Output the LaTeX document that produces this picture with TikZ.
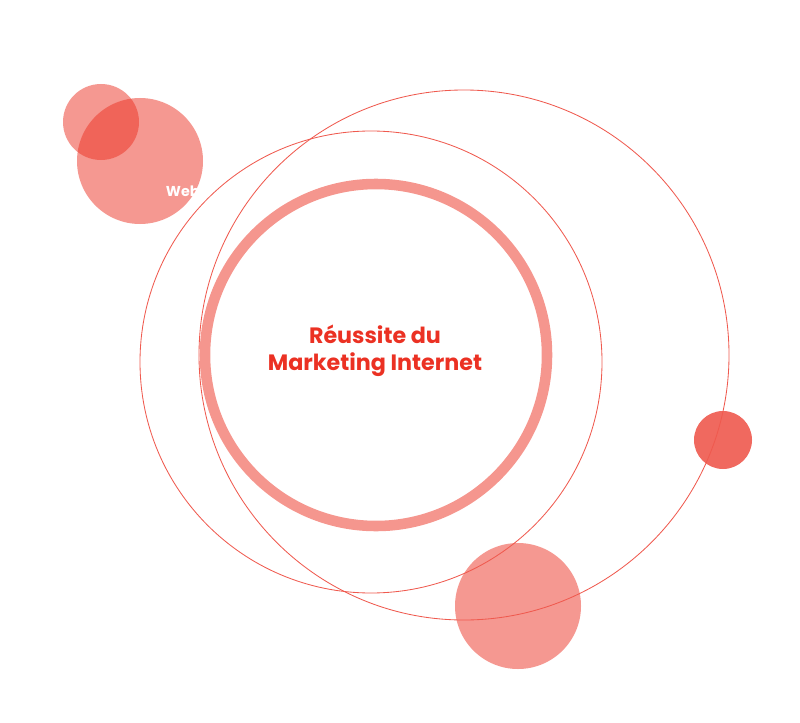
\documentclass[tikz,border=0pt]{standalone}
\usepackage{fontspec}
\setmainfont{Poppins}
\usetikzlibrary{positioning}
\definecolor{brandred}{RGB}{235,49,35}
\definecolor{ringpink}{RGB}{245,150,142}

\begin{document}
\begin{tikzpicture}[x=0.025cm, y=-0.025cm,
  bubble/.style={fill=brandred, fill opacity=0.5},
  dot/.style={fill=brandred, fill opacity=0.73},
  orbit/.style={draw=brandred!80, line width=0.6pt},
  title/.style={font=\fontsize{15.8}{19}\selectfont\bfseries, text=brandred, align=center},
  tag/.style={font=\fontsize{10.2}{12}\selectfont\bfseries, text=white},
]
\useasboundingbox (0,0) rectangle (800,722);

% === Bubbles ===
\fill[bubble] (101,122) circle (38);
\fill[bubble] (140,161) circle (63);
\fill[bubble] (518,606) circle (63);
\fill[dot] (723,440) circle (29);

% === Orbits ===
\draw[orbit] (371,362) circle (231);
\draw[orbit] (464,355) circle (265);

% === Central ring ===
\draw[draw=ringpink, line width=7.5pt] (376,355) circle (171);

\node[title] (core) at (375,351) {Réussite du\\Marketing Internet};
\node[tag, anchor=west] (web) at (161,191) {Web};

\end{tikzpicture}
\end{document}
